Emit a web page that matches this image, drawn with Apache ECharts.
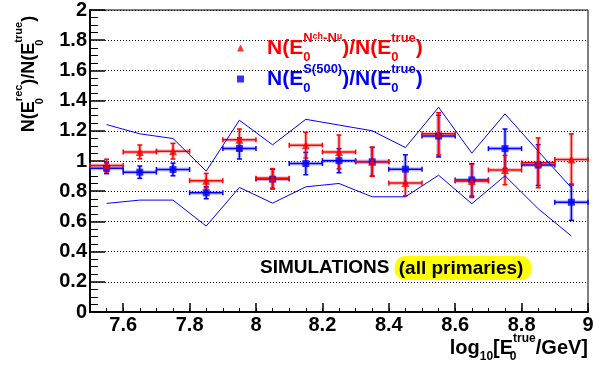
<!DOCTYPE html>
<html>
<head>
<meta charset="utf-8">
<script src="https://cdn.jsdelivr.net/npm/echarts@6/dist/echarts.min.js"></script>
<style>
html, body { margin: 0; padding: 0; background: #fff; }
#main { width: 605px; height: 367px; }
</style>
</head>
<body>
<div id="main"></div>
<script>
// bin centres of log10(E0true/GeV), bins are 0.1 wide
const binCenters = [7.55, 7.65, 7.75, 7.85, 7.95, 8.05, 8.15, 8.25, 8.35, 8.45, 8.55, 8.65, 8.75, 8.85, 8.95];
// N(E0 from Nch-Nmu)/N(E0 true)
const chNmuRatio = [0.97, 1.06, 1.065, 0.87, 1.14, 0.885, 1.105, 1.06, 0.995, 0.855, 1.18, 0.868, 0.94, 0.988, 1.01];
const chNmuErr = [0.042, 0.046, 0.052, 0.048, 0.072, 0.065, 0.085, 0.112, 0.097, 0.085, 0.14, 0.11, 0.097, 0.165, 0.17];
// N(E0 from S(500))/N(E0 true)
const s500Ratio = [0.952, 0.926, 0.944, 0.79, 1.083, 0.88, 0.983, 1.002, 0.995, 0.946, 1.165, 0.875, 1.082, 0.973, 0.727];
const s500Err = [0.036, 0.041, 0.042, 0.04, 0.07, 0.065, 0.074, 0.08, 0.095, 0.095, 0.138, 0.108, 0.13, 0.135, 0.12];
// blue band around the S(500) points
const bandUpper = [1.241, 1.18, 1.149, 0.933, 1.27, 1.107, 1.276, 1.238, 1.2, 1.089, 1.356, 1.052, 1.312, 1.065, 0.823];
const bandLower = [0.719, 0.741, 0.741, 0.569, 0.825, 0.721, 0.829, 0.851, 0.763, 0.763, 0.906, 0.717, 0.902, 0.684, 0.503];
const xTickLabels = [7.6, 7.8, 8, 8.2, 8.4, 8.6, 8.8, 9];

const HALF_BIN = 0.05;
const RED = '#ff0000';
const BLUE = '#0000ff';
const FONT = 'Liberation Sans';

const zip = (xs, ys) => xs.map((x, i) => [x, ys[i]]);
const zip3 = (xs, ys, es) => xs.map((x, i) => [x, ys[i], es[i]]);

// ROOT style error bars: x error = half bin, y error from data, small caps at all ends
function errorBars(color) {
    return function (params, api) {
        const x = api.value(0), y = api.value(1), e = api.value(2);
        const l = api.coord([x - HALF_BIN, y]);
        const r = api.coord([x + HALF_BIN, y]);
        const t = api.coord([x, y + e]);
        const b = api.coord([x, y - e]);
        const cap = 2.5;
        const segs = [
            [l, r], [t, b],
            [[l[0], l[1] - cap], [l[0], l[1] + cap]],
            [[r[0], r[1] - cap], [r[0], r[1] + cap]],
            [[t[0] - cap, t[1]], [t[0] + cap, t[1]]],
            [[b[0] - cap, b[1]], [b[0] + cap, b[1]]]
        ];
        const children = [];
        // soft halo under the two main bars, like the original plot
        segs.slice(0, 2).forEach(s => children.push({
            type: 'line',
            shape: { x1: s[0][0], y1: s[0][1], x2: s[1][0], y2: s[1][1] },
            style: { stroke: color, lineWidth: 4, opacity: 0.25 }
        }));
        segs.forEach(s => children.push({
            type: 'line',
            shape: { x1: s[0][0], y1: s[0][1], x2: s[1][0], y2: s[1][1] },
            style: { stroke: color, lineWidth: 1.5 }
        }));
        return { type: 'group', children: children };
    };
}

// rich text styles for sub/superscripts (sub0 has zero width so the superscript sits above it)
function richSet(color, size, lh) {
    return {
        m: { fontFamily: FONT, fontWeight: 'bold', fontSize: size, color: color, lineHeight: lh || size + 14, verticalAlign: 'middle' },
        sup: { fontFamily: FONT, fontWeight: 'bold', fontSize: Math.round(size * 0.62), color: color, lineHeight: 14, verticalAlign: 'top' },
        ss: { fontFamily: FONT, fontWeight: 'bold', fontSize: Math.round(size * 0.45), color: color, lineHeight: 20, verticalAlign: 'top' },
        sub0: { fontFamily: FONT, fontWeight: 'bold', fontSize: Math.round(size * 0.62), color: color, lineHeight: 14, verticalAlign: 'bottom', width: 0, align: 'left' },
        sub: { fontFamily: FONT, fontWeight: 'bold', fontSize: Math.round(size * 0.62), color: color, lineHeight: 12, verticalAlign: 'bottom' }
    };
}
function prefixed(p, rich) {
    const out = {};
    Object.keys(rich).forEach(k => { out[p + k] = rich[k]; });
    return out;
}

const legendRich = Object.assign(
    { g: { width: 18 } },
    prefixed('r', richSet(RED, 21, 32)),
    prefixed('b', richSet(BLUE, 21, 32))
);

const legendText = {
    chnmu: '{g| }{rm|N(E}{rsub0|0}{rsup|N}{rss|ch}{rsup|-N}{rss|\u03bc}{rm|)/N(E}{rsub0|0}{rsup|true}{rm|)}',
    s500: '{g| }{bm|N(E}{bsub0|0}{bsup|S(500)}{bm|)/N(E}{bsub0|0}{bsup|true}{bm|)}'
};

const myChart = echarts.init(document.getElementById('main'), null, { renderer: 'canvas' });

const option = {
    animation: false,
    backgroundColor: '#fff',
    grid: {
        left: 90, right: 17, top: 9, bottom: 55,
        show: true, borderColor: '#000', borderWidth: 1, backgroundColor: 'transparent'
    },
    xAxis: [
        {
            type: 'value', min: 7.5, max: 9, position: 'bottom',
            axisLine: { show: true, lineStyle: { color: '#000', width: 2 } },
            axisTick: { show: true, inside: true, length: 9, customValues: xTickLabels, lineStyle: { color: '#000', width: 1.5 } },
            axisLabel: {
                customValues: xTickLabels, margin: 3,
                fontFamily: FONT, fontWeight: 'bold', fontSize: 20, color: '#000',
                formatter: v => String(+v.toFixed(1))
            },
            splitLine: { show: false }
        },
        {
            type: 'value', min: 7.5, max: 9, interval: 0.05, position: 'bottom',
            axisLine: { show: false },
            axisTick: { show: true, inside: true, length: 4, lineStyle: { color: '#000', width: 1 } },
            axisLabel: { show: false },
            splitLine: { show: false }
        }
    ],
    yAxis: {
        type: 'value', min: 0, max: 2, interval: 0.2,
        axisLine: { show: true, lineStyle: { color: '#000', width: 2 } },
        axisTick: { show: true, inside: true, length: 15, lineStyle: { color: '#000', width: 1.5 } },
        minorTick: { show: true, splitNumber: 4, length: 8, lineStyle: { color: '#000', width: 1 } },
        axisLabel: {
            margin: 3, fontFamily: FONT, fontWeight: 'bold', fontSize: 20, color: '#000',
            formatter: v => String(+v.toFixed(1))
        },
        splitLine: { show: true, lineStyle: { color: '#000', width: 1, type: [1, 2] } }
    },
    legend: {
        orient: 'vertical', left: 232, top: 27,
        itemWidth: 7, itemHeight: 7, itemGap: -1,
        selectedMode: false,
        data: ['chnmu', 's500'],
        formatter: name => legendText[name],
        textStyle: { rich: legendRich }
    },
    graphic: [
        {
            type: 'text', x: 29, y: 74, rotation: Math.PI / 2,
            style: {
                text: '{m|N(E}{sub0|0}{sup|rec}{m|)/N(E}{sub0|0}{sup|true}{m|)}',
                rich: richSet('#000', 18), align: 'center', verticalAlign: 'middle'
            }
        },
        {
            type: 'text', x: 588, y: 348,
            style: {
                text: '{m|log}{sub|10}{m|[E}{sub0|0}{sup|true}{m|/GeV]}',
                rich: richSet('#000', 20, 30), align: 'right', verticalAlign: 'middle'
            }
        },
        {
            type: 'text', x: 260, y: 268,
            style: {
                text: '{t|SIMULATIONS }{h|(all primaries)}',
                rich: {
                    t: { fontFamily: FONT, fontWeight: 'bold', fontSize: 19, color: '#000' },
                    h: {
                        fontFamily: FONT, fontWeight: 'bold', fontSize: 19, color: '#000',
                        backgroundColor: '#ffff00', borderRadius: 10, padding: [3, 8, 2, 4]
                    }
                },
                verticalAlign: 'middle'
            }
        }
    ],
    series: [
        {
            name: 'bandUpper', type: 'line', data: zip(binCenters, bandUpper),
            symbol: 'none', silent: true, lineStyle: { color: BLUE, width: 1 }
        },
        {
            name: 'bandLower', type: 'line', data: zip(binCenters, bandLower),
            symbol: 'none', silent: true, lineStyle: { color: BLUE, width: 1 }
        },
        {
            type: 'custom', renderItem: errorBars(BLUE), silent: true,
            encode: { x: 0, y: 1 }, data: zip3(binCenters, s500Ratio, s500Err)
        },
        {
            name: 's500', type: 'scatter', symbol: 'rect', symbolSize: 7,
            itemStyle: { color: BLUE }, data: zip(binCenters, s500Ratio)
        },
        {
            type: 'custom', renderItem: errorBars(RED), silent: true,
            encode: { x: 0, y: 1 }, data: zip3(binCenters, chNmuRatio, chNmuErr)
        },
        {
            name: 'chnmu', type: 'scatter', symbol: 'triangle', symbolSize: 8,
            itemStyle: { color: RED }, data: zip(binCenters, chNmuRatio)
        }
    ]
};

myChart.setOption(option, true);
</script>
</body>
</html>
